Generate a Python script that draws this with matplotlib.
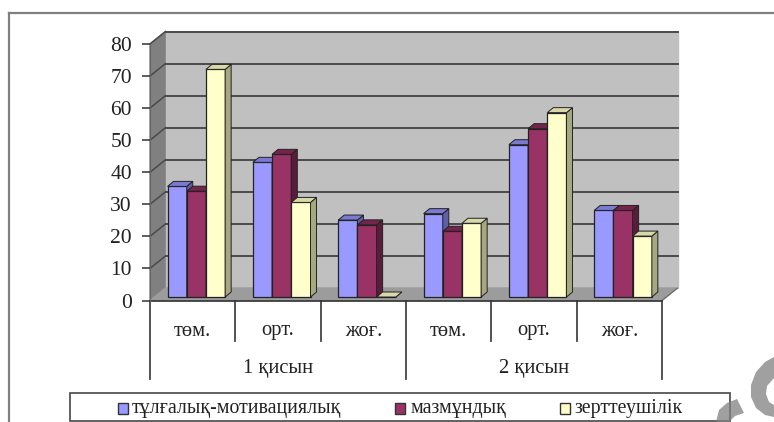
import matplotlib
matplotlib.use("Agg")
import matplotlib.pyplot as plt
import numpy as np
from matplotlib.patches import Rectangle, Polygon

plt.rcParams["font.family"] = ["Liberation Serif", "DejaVu Serif"]

levels = ["төм.", "орт.", "жоғ.", "төм.", "орт.", "жоғ."]
groups = ["1 қисын", "2 қисын"]
series_names = ["тұлғалық-мотивациялық", "мазмұндық", "зерттеушілік"]
personal = [34.5, 42, 24, 26, 47.5, 27]
content = [33, 44.5, 22.5, 20.5, 52.5, 27]
research = [71, 29.5, 0, 23, 57.5, 19]

colors = ["#9999ff", "#993366", "#ffffcc"]
side_colors = ["#5f5fa8", "#5a1c3c", "#a8a880"]
top_colors = ["#7a7ad0", "#74244c", "#d8d8a8"]

W, H = 774, 422
fig = plt.figure(figsize=(W / 100, H / 100), dpi=100)


def px(x, y):
    return x / W, 1 - y / H


# front plane of the 3d box
left, right, y0, y80 = 150, 662, 300.5, 44
ax = fig.add_axes([left / W, 1 - y0 / H, (right - left) / W, (y0 - y80) / H])
ax.set_xlim(0, 6)
ax.set_ylim(0, 80)

ux = 6 / (right - left)
uy = 80 / (y0 - y80)
dx, dy = 15.5 * ux, 12.5 * uy   # wall depth
bx, by = 6 * ux, 5 * uy         # bar depth
b0x, b0y = 3.7 * ux, 3.5 * uy   # bars stand a bit behind the front edge
bar_w = 19.2 * ux
gap = (1 - 3 * bar_w) / 2

ax.fill([0, dx, dx, 0], [0, dy, 80 + dy, 80], color="#808080", clip_on=False, zorder=1)
ax.fill([dx, 6 + dx, 6 + dx, dx], [dy, dy, 80 + dy, 80 + dy], color="#c0c0c0", clip_on=False, zorder=1)
ax.fill([0, 6, 6 + dx, dx], [0, 0, dy, dy], color="#9c9c9c", clip_on=False, zorder=1)

for v in range(10, 90, 10):
    ax.plot([dx, 6 + dx], [v + dy, v + dy], color="#4a4a4a", lw=1.4, clip_on=False, zorder=2)
    ax.plot([0, dx], [v, v + dy], color="#4a4a4a", lw=1.1, clip_on=False, zorder=2)
ax.plot([6, 6 + dx], [0, dy], color="#666666", lw=0.8, clip_on=False, zorder=2)
ax.plot([0, 6], [0, 0], color="#333333", lw=1.2, clip_on=False, zorder=3)
ax.plot([0, 0], [0, 80], color="#666666", lw=0.8, clip_on=False, zorder=3)

for g in range(6):
    for s, vals in enumerate([personal, content, research]):
        v = vals[g]
        x = g + gap + b0x + s * bar_w
        z = 10 + g * 4 + s
        ax.bar(x, v, bar_w, b0y, align="edge", color=colors[s], edgecolor="#222222", lw=0.9, zorder=z)
        ax.fill([x + bar_w, x + bar_w + bx, x + bar_w + bx, x + bar_w],
                [b0y, b0y + by, b0y + by + v, b0y + v],
                facecolor=side_colors[s], edgecolor="#222222", lw=0.7, zorder=z)
        ax.fill([x, x + bx, x + bar_w + bx, x + bar_w],
                [b0y + v, b0y + v + by, b0y + v + by, b0y + v],
                facecolor=top_colors[s], edgecolor="#222222", lw=0.7, zorder=z)

for sp in ax.spines.values():
    sp.set_visible(False)
ax.patch.set_visible(False)
ax.set_yticks(range(0, 90, 10))
ax.tick_params(axis="y", length=6, width=1.1, color="#333333", labelsize=15.5, labelcolor="#222222", pad=7)
ax.set_xticks([])

# two level category axis
axis_kw = dict(color="#444444", lw=1.3, clip_on=False)
tall = -78.5 * uy
short = -40.5 * uy
for i in range(7):
    low = tall if i % 3 == 0 else short
    ax.plot([i, i], [0, low], **axis_kw)
for i, lab in enumerate(levels):
    ax.text(i + 0.5, -30.5 * uy, lab, ha="center", va="center", fontsize=14.8, color="#222222")
for i, lab in enumerate(groups):
    ax.text(i * 3 + 1.5, -68 * uy, lab, ha="center", va="center", fontsize=14.8, color="#222222")

# outer chart frame, runs off the image on the right and bottom
fig.add_artist(plt.Line2D([8.5 / W, 8.5 / W], [0, 1 - 12.5 / H], color="#808080", lw=1.6))
fig.add_artist(plt.Line2D([8.5 / W, 1], [1 - 12.5 / H, 1 - 12.5 / H], color="#808080", lw=1.6))

# legend box
fig.add_artist(Rectangle(px(69.5, 420.5), 660 / W, 28 / H, transform=fig.transFigure,
                         facecolor="white", edgecolor="#555555", lw=1.3))
swatch_x = [118, 395.5, 559.5]
text_x = [132, 410, 574]
for s, name in enumerate(series_names):
    fig.add_artist(Rectangle(px(swatch_x[s], 414), 10 / W, 11 / H, transform=fig.transFigure,
                             facecolor=colors[s], edgecolor="#333333", lw=1.0))
    fig.text(text_x[s] / W, 1 - 408 / H, name, ha="left", va="center", fontsize=14.3, color="#222222")

# watermark pieces in the corner, over the legend
c_shape = [(774, 357), (765, 362), (756, 372), (751, 385), (751, 397), (756, 408), (765, 415), (774, 417),
           (774, 405), (769, 402), (766, 394), (767, 386), (774, 378)]
arc_shape = [(716, 422), (719, 410), (727, 403), (737, 399), (744, 413), (735, 416), (729, 422)]
for pts in [c_shape, arc_shape]:
    fig.add_artist(Polygon([px(*p) for p in pts], transform=fig.transFigure,
                           facecolor="#808080", edgecolor="none", alpha=0.75, zorder=5))

fig.savefig("out.png", dpi=100)
